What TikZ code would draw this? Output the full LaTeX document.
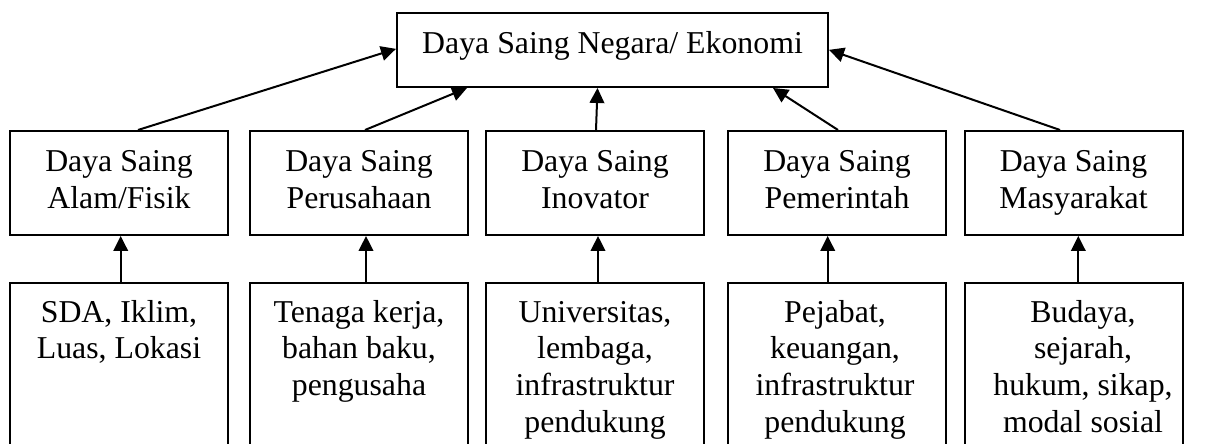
\documentclass[tikz,border=0pt]{standalone}
\usepackage{fontspec}
\setmainfont{Liberation Serif}
\usetikzlibrary{calc,arrows.meta}

\begin{document}
\begin{tikzpicture}[x=0.5bp,y=-0.5bp,
  txt/.style={font=\fontsize{15.9bp}{18.35bp}\selectfont, align=center, inner sep=0pt},
  topbox/.style={txt, draw, line width=1bp, minimum width=215.5bp, minimum height=37.15bp,
                 text height=11bp, text depth=7.7bp},
  midbox/.style={txt, draw, line width=1bp, minimum width=109bp, minimum height=52bp},
  lowbox/.style={draw, line width=1bp, minimum width=109bp, minimum height=98.65bp, inner sep=0pt},
  lowtext/.style={txt, anchor=north},
  arr/.style={line width=1bp, -{Triangle[length=7.5bp,width=7.3bp]}}]
\useasboundingbox (0,0) rectangle (1206,444);
\clip (0,0) rectangle (1206,444);

% top level
\node[topbox] (top) at (612.5,49.85) {Daya Saing Negara/ Ekonomi};

% middle level
\node[midbox] (m1) at (119,183)    {\strut Daya Saing\\\strut Alam/Fisik};
\node[midbox] (m2) at (359,183)    {\strut Daya Saing\\\strut Perusahaan};
\node[midbox] (m3) at (595,183)    {\strut Daya Saing\\\strut Inovator};
\node[midbox] (m4) at (837,183)    {\strut Daya Saing\\\strut Pemerintah};
\node[midbox] (m5) at (1073.5,183) {\strut Daya Saing\\\strut Masyarakat};

% bottom level boxes (run past the lower edge)
\node[lowbox] (b1) at (119,381.35)    {};
\node[lowbox] (b2) at (359,381.35)    {};
\node[lowbox] (b3) at (595,381.35)    {};
\node[lowbox] (b4) at (837,381.35)    {};
\node[lowbox] (b5) at (1073.5,381.35) {};

\node[lowtext] (t1) at (119,296)    {\strut SDA, Iklim,\\Luas, Lokasi};
\node[lowtext] (t2) at (359,296)    {\strut Tenaga kerja,\\bahan baku,\\pengusaha};
\node[lowtext] (t3) at (595,296)    {\strut Universitas,\\lembaga,\\infrastruktur\\pendukung};
\node[lowtext] (t4) at (835,296)    {\strut Pejabat,\\keuangan,\\infrastruktur\\pendukung};
\node[lowtext] (t5) at (1083,296)   {\strut Budaya,\\sejarah,\\hukum, sikap,\\modal sosial};

% bottom to middle
\draw[arr] ($(b1.north)+(1.7,0)$)  -- ($(m1.south)+(1.7,0)$);
\draw[arr] ($(b2.north)+(7,0)$)    -- ($(m2.south)+(7,0)$);
\draw[arr] ($(b3.north)+(3,0)$)    -- ($(m3.south)+(3,0)$);
\draw[arr] ($(b4.north)+(-9.3,0)$) -- ($(m4.south)+(-9.3,0)$);
\draw[arr] ($(b5.north)+(4.8,0)$)  -- ($(m5.south)+(4.8,0)$);

% middle to top
\draw[arr] ($(m1.north)+(19,0)$)    -- ($(top.west)+(0,-1)$);
\draw[arr] ($(m2.north)+(6,0)$)     -- ($(top.south)+(-145.5,0)$);
\draw[arr] ($(m3.north)+(1,0)$)     -- ($(top.south)+(-15,0)$);
\draw[arr] ($(m4.north)+(1,0)$)     -- ($(top.south)+(160.5,0)$);
\draw[arr] ($(m5.north)+(-13.5,0)$) -- (top.east);
\end{tikzpicture}
\end{document}
